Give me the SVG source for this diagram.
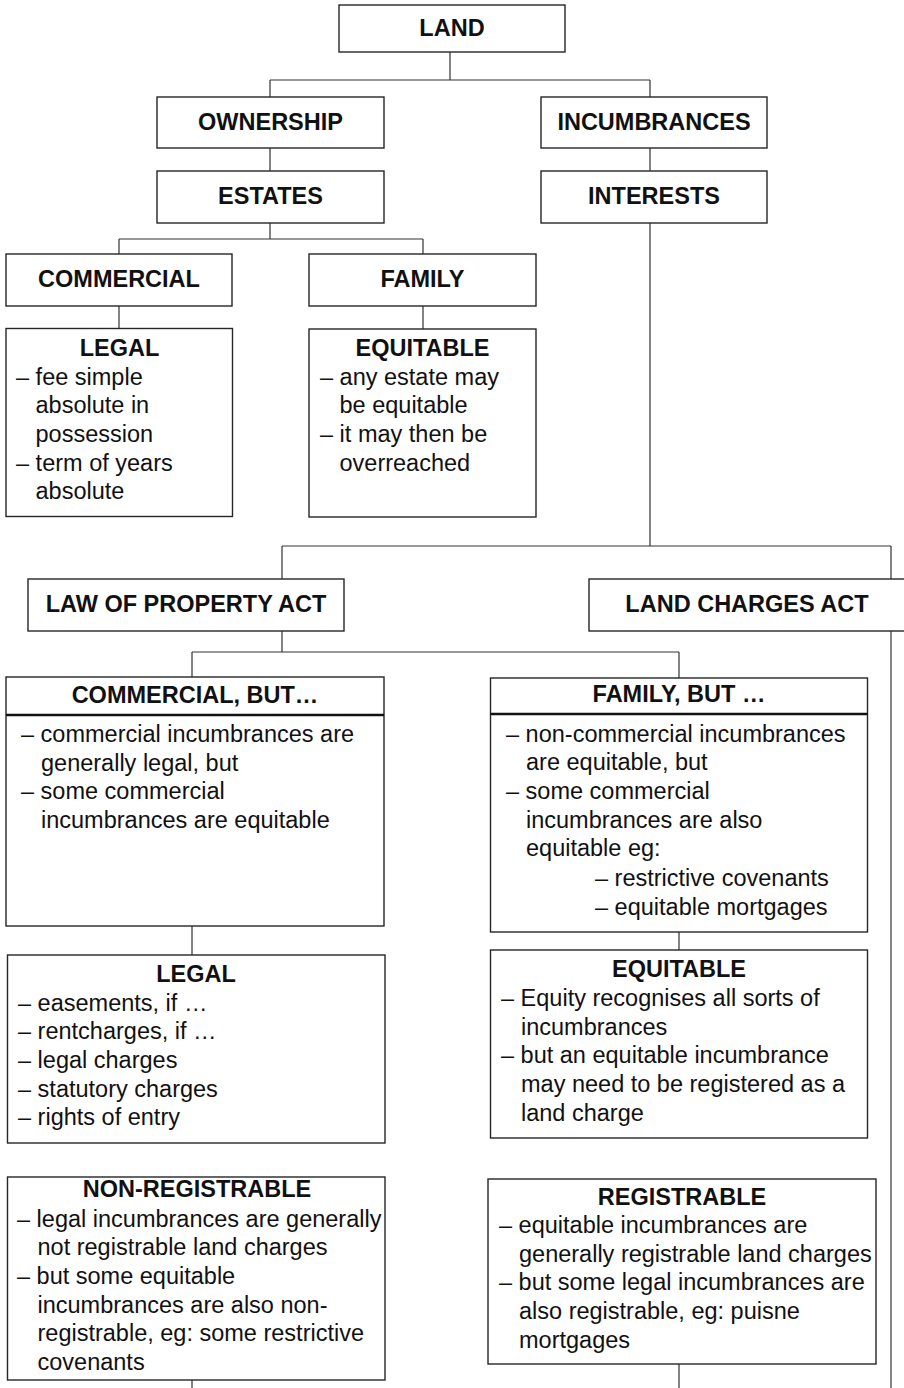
<svg xmlns="http://www.w3.org/2000/svg" width="904" height="1388" viewBox="0 0 904 1388">
<style>
.box{fill:#fff;stroke:#262626;stroke-width:1.4}
.sep{stroke:#111;stroke-width:2.6}
.con{fill:none;stroke:#333;stroke-width:1.2}
text{font-family:"Liberation Sans",Arial,Helvetica,sans-serif;font-size:23.5px;fill:#111}
.t{font-weight:bold;text-anchor:middle}
</style>
<rect width="904" height="1388" fill="#fff"/>
<g id="connectors" class="con">
<path d="M450 52V80M270 80H650M270 80V97M650 80V97"/>
<path d="M270 148V171M650 148V171"/>
<path d="M270 223V239M119 239H423M119 239V254M423 239V254"/>
<path d="M119 306V328M423 306V329"/>
<path d="M650 223V546M282 546H891M282 546V579M891 546V579"/>
<path d="M891 631V1388"/>
<path d="M282 631V652M192 652H679M192 652V677M679 652V678"/>
<path d="M192 926V955M679 932V950"/>
<path d="M192 1380V1388M679 1364V1388"/>
</g>
<g id="land"><rect class="box" x="339" y="5" width="226" height="47"/><text class="t" x="452" y="36">LAND</text></g>
<g id="ownership"><rect class="box" x="157" y="97" width="227" height="51"/><text class="t" x="270.5" y="130">OWNERSHIP</text></g>
<g id="incumbrances"><rect class="box" x="541" y="97" width="226" height="51"/><text class="t" x="654" y="130">INCUMBRANCES</text></g>
<g id="estates"><rect class="box" x="157" y="171" width="227" height="52"/><text class="t" x="270.5" y="204">ESTATES</text></g>
<g id="interests"><rect class="box" x="541" y="171" width="226" height="52"/><text class="t" x="654" y="204">INTERESTS</text></g>
<g id="commercial"><rect class="box" x="6" y="254" width="226" height="52"/><text class="t" x="119" y="287">COMMERCIAL</text></g>
<g id="family"><rect class="box" x="309" y="254" width="227" height="52"/><text class="t" x="422.5" y="287">FAMILY</text></g>
<g id="legal-estates"><rect class="box" x="6" y="328.5" width="226.5" height="188"/>
<text class="t" x="119.5" y="356">LEGAL</text>
<text x="16" y="384.5">– fee simple</text>
<text x="35.5" y="413.2">absolute in</text>
<text x="35.5" y="441.9">possession</text>
<text x="16" y="470.6">– term of years</text>
<text x="35.5" y="499.3">absolute</text></g>
<g id="equitable-estates"><rect class="box" x="309" y="329" width="227" height="188"/>
<text class="t" x="422.5" y="356">EQUITABLE</text>
<text x="320" y="384.5">– any estate may</text>
<text x="339.5" y="413.2">be equitable</text>
<text x="320" y="441.9">– it may then be</text>
<text x="339.5" y="470.6">overreached</text></g>
<g id="law-of-property-act"><rect class="box" x="28" y="579" width="316" height="52"/><text class="t" x="186" y="612">LAW OF PROPERTY ACT</text></g>
<g id="land-charges-act"><rect class="box" x="589" y="579" width="330" height="52"/><text class="t" x="747" y="612">LAND CHARGES ACT</text></g>
<g id="commercial-but"><rect class="box" x="6" y="677" width="378" height="249"/><line class="sep" x1="6" y1="715" x2="384" y2="715"/>
<text class="t" x="195" y="703">COMMERCIAL, BUT…</text>
<text x="21" y="742">– commercial incumbrances are</text>
<text x="41" y="770.7">generally legal, but</text>
<text x="21" y="799.4">– some commercial</text>
<text x="41" y="828.1">incumbrances are equitable</text></g>
<g id="family-but"><rect class="box" x="490.5" y="678" width="377" height="254"/><line class="sep" x1="490.5" y1="714" x2="867.5" y2="714"/>
<text class="t" x="679" y="702">FAMILY, BUT …</text>
<text x="506" y="741.5">– non-commercial incumbrances</text>
<text x="526" y="770.2">are equitable, but</text>
<text x="506" y="798.9">– some commercial</text>
<text x="526" y="827.6">incumbrances are also</text>
<text x="526" y="856.3">equitable eg:</text>
<text x="595" y="886">– restrictive covenants</text>
<text x="595" y="915">– equitable mortgages</text></g>
<g id="legal-incumbrances"><rect class="box" x="7.5" y="955" width="377.5" height="188"/>
<text class="t" x="196" y="982">LEGAL</text>
<text x="18" y="1010.5">– easements, if …</text>
<text x="18" y="1039.2">– rentcharges, if …</text>
<text x="18" y="1067.9">– legal charges</text>
<text x="18" y="1096.6">– statutory charges</text>
<text x="18" y="1125.3">– rights of entry</text></g>
<g id="equitable-incumbrances"><rect class="box" x="490.5" y="950" width="377" height="188"/>
<text class="t" x="679" y="977">EQUITABLE</text>
<text x="501" y="1006">– Equity recognises all sorts of</text>
<text x="521" y="1034.7">incumbrances</text>
<text x="501" y="1063.4">– but an equitable incumbrance</text>
<text x="521" y="1092.1">may need to be registered as a</text>
<text x="521" y="1120.8">land charge</text></g>
<g id="non-registrable"><rect class="box" x="7.5" y="1177" width="377.5" height="203"/>
<text class="t" x="197" y="1197">NON-REGISTRABLE</text>
<text x="17" y="1226.5">– legal incumbrances are generally</text>
<text x="37.5" y="1255.2">not registrable land charges</text>
<text x="17" y="1283.9">– but some equitable</text>
<text x="37.5" y="1312.6">incumbrances are also non-</text>
<text x="37.5" y="1341.3">registrable, eg: some restrictive</text>
<text x="37.5" y="1370">covenants</text></g>
<g id="registrable"><rect class="box" x="488" y="1179" width="388" height="185"/>
<text class="t" x="682" y="1205">REGISTRABLE</text>
<text x="499" y="1233">– equitable incumbrances are</text>
<text x="519" y="1261.7">generally registrable land charges</text>
<text x="499" y="1290.4">– but some legal incumbrances are</text>
<text x="519" y="1319.1">also registrable, eg: puisne</text>
<text x="519" y="1347.8">mortgages</text></g>
</svg>
